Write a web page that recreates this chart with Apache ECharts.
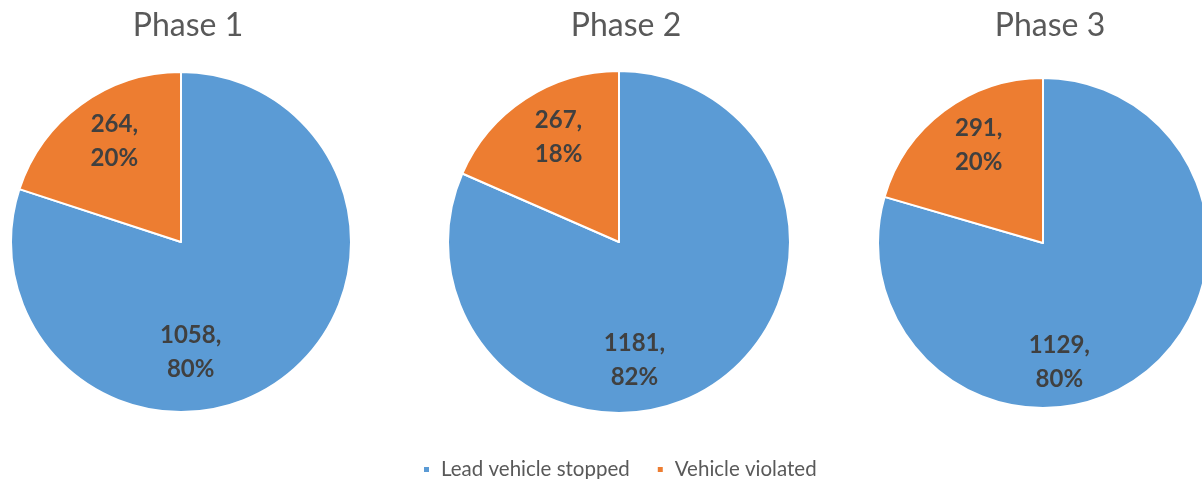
<!DOCTYPE html>
<html>
<head>
<meta charset="utf-8">
<script src="https://cdn.jsdelivr.net/npm/echarts@6/dist/echarts.min.js"></script>
<style>
  html, body { margin: 0; padding: 0; background: #fff; }
  #chart { width: 1202px; height: 479px; }
</style>
</head>
<body>
<div id="chart"></div>
<script>
// data
const phases = ['Phase 1', 'Phase 2', 'Phase 3'];
const categories = ['Lead vehicle stopped', 'Vehicle violated'];
const stopped = [1058, 1181, 1129];
const violated = [264, 267, 291];

const colors = ['#5B9BD5', '#ED7D31'];

// pie placement per phase
const centers = [[181, 242], [619, 242], [1043, 243]];
const radii = [170, 171, 165];
// nudge the labels towards where the spreadsheet put them
const labelShift = [
  [[-42, 39], [-15, -29]],
  [[-33, 44], [-12, -31]],
  [[-35, 51], [-13, -29]]
];

const chart = echarts.init(document.getElementById('chart'));

const titles = phases.map((p, i) => ({
  text: p,
  left: centers[i][0] + 2,
  top: 5,
  textAlign: 'center',
  textStyle: { fontFamily: 'Lato', fontSize: 32, fontWeight: 'normal', color: '#595959' }
}));

const series = phases.map((p, i) => ({
  name: p,
  type: 'pie',
  center: centers[i],
  radius: radii[i],
  startAngle: 90,
  clockwise: true,
  avoidLabelOverlap: false,
  silent: true,
  itemStyle: { borderColor: '#fff', borderWidth: 2 },
  label: {
    show: true,
    position: 'inside',
    formatter: (d) => d.value + ',\n' + Math.round(d.percent) + '%',
    fontFamily: 'Lato',
    fontSize: 24,
    fontWeight: 'bold',
    lineHeight: 34,
    color: '#404040'
  },
  labelLine: { show: false },
  data: [
    { name: categories[0], value: stopped[i], label: { offset: labelShift[i][0] } },
    { name: categories[1], value: violated[i], label: { offset: labelShift[i][1] } }
  ]
}));

chart.setOption({
  animation: false,
  color: colors,
  title: titles,
  legend: {
    data: categories,
    left: 417,
    top: 454,
    icon: 'rect',
    itemWidth: 7,
    itemHeight: 7,
    itemGap: 26,
    textStyle: { fontFamily: 'Lato', fontSize: 20.5, color: '#595959', padding: [0, 0, 0, 6] }
  },
  series: series
});
</script>
</body>
</html>
